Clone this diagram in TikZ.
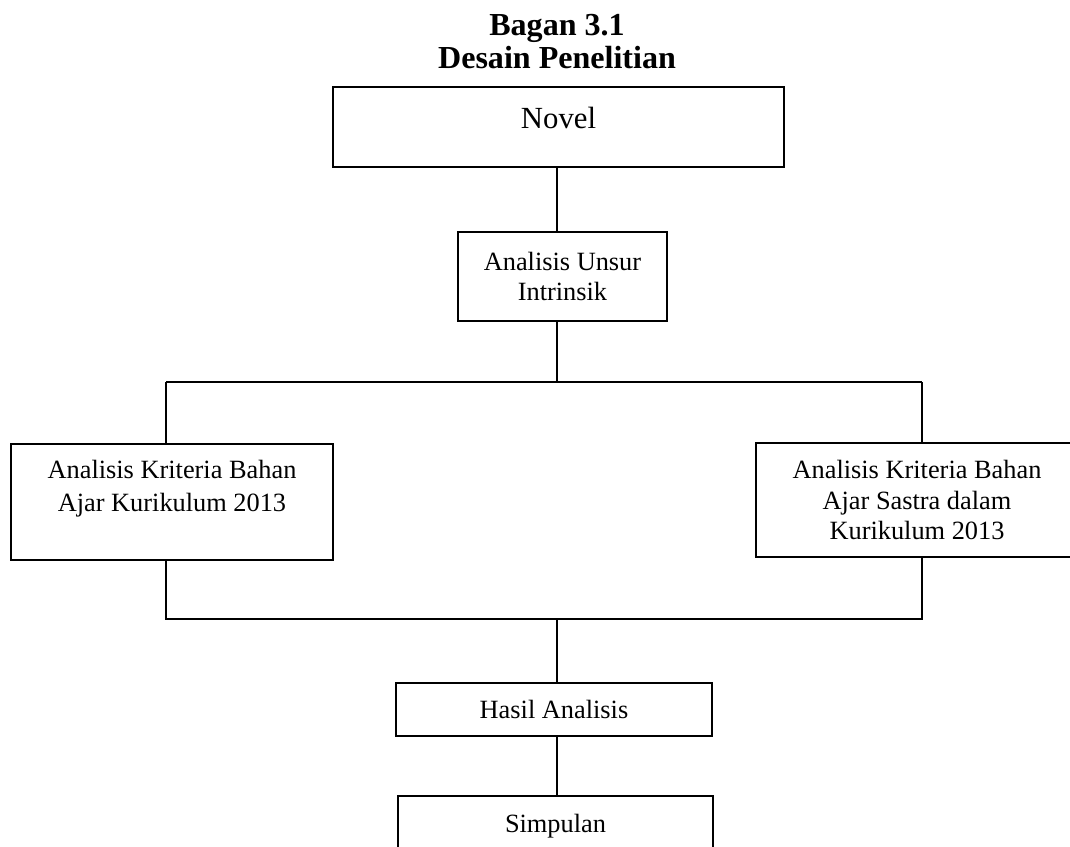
\documentclass[tikz,border=0pt]{standalone}
\usepackage{fontspec}
\setmainfont{Liberation Serif}
\usetikzlibrary{positioning}

\begin{document}
\begin{tikzpicture}[
    x=0.016cm, y=-0.016cm,
    line width=0.6pt,
    box/.style={draw, rectangle, line width=1.1pt, align=center, inner sep=0pt,
        font=\fontsize{12}{13.8}\selectfont},
    title/.style={align=center, inner sep=0pt, font=\fontsize{14.6}{15}\selectfont\bfseries}
]
\useasboundingbox (0,0) rectangle (1070,846);

% Title
\node[title, anchor=north] (judul) at (557,14) {Bagan 3.1\\Desain Penelitian};

% Boxes
\node[box, minimum width=7.216cm, minimum height=1.28cm,
      font=\fontsize{14}{16}\selectfont, text height=10pt, text depth=9pt] (novel) at (558.5,127) {Novel};
\node[box, minimum width=3.344cm, minimum height=1.424cm] (unsur) at (562.5,276.5) {Analisis Unsur\\Intrinsik};
\node[box, minimum width=5.152cm, minimum height=1.856cm,
      font=\fontsize{12}{15}\selectfont] (kriteria) at (172,502) {Analisis Kriteria Bahan\\Ajar Kurikulum 2013\\\mbox{}};
\node[box, minimum width=5.152cm, minimum height=1.824cm] (sastra) at (917,500) {Analisis Kriteria Bahan\\Ajar Sastra dalam\\Kurikulum 2013};
\node[box, minimum width=5.056cm, minimum height=0.848cm] (hasil) at (554,709.5) {Hasil Analisis};
\node[box, minimum width=5.04cm, minimum height=0.96cm] (simpulan) at (555.5,826) {Simpulan};

% Junctions
\coordinate (atas) at (557,382);
\coordinate (atasKiri) at (166,382);
\coordinate (atasKanan) at (922,382);
\coordinate (bawah) at (557,619);
\coordinate (bawahKiri) at (166,619);
\coordinate (bawahKanan) at (922,619);

% Connectors
\draw (novel.south -| atas) -- (unsur.north -| atas);
\draw (unsur.south -| atas) -- (atas);
\draw (atasKiri) -- (atasKanan);
\draw (atasKiri) -- (atasKiri |- kriteria.north);
\draw (atasKanan) -- (atasKanan |- sastra.north);
\draw (kriteria.south -| bawahKiri) -- (bawahKiri) -- (bawahKanan) -- (sastra.south -| bawahKanan);
\draw (bawah) -- (hasil.north -| bawah);
\draw (hasil.south -| bawah) -- (simpulan.north -| bawah);

\end{tikzpicture}
\end{document}
